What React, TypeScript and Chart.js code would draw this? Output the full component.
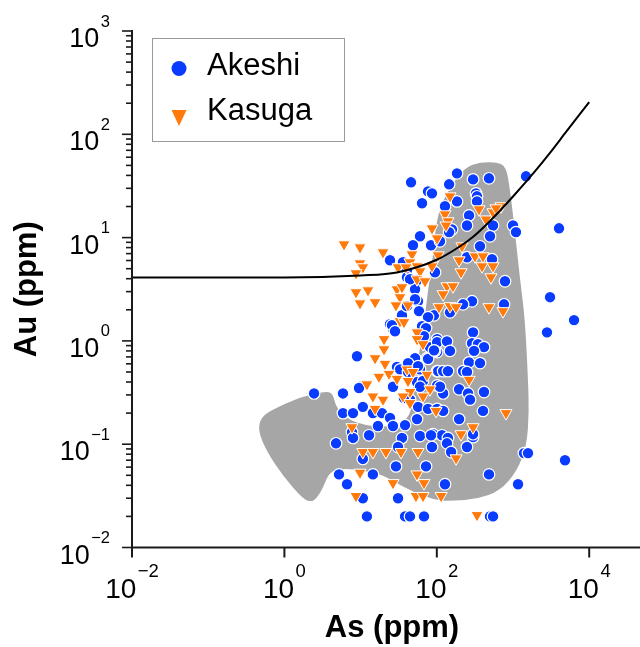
import React, { useEffect, useRef } from "react";
import { Chart, registerables } from "chart.js";
Chart.register(...registerables);

// ---- data (As ppm, Au ppm) ----
const akeshiAs = [184,299,484,145,45.9,76.7,86.5,327,337,64,184,337,128,1481,265,249,547,158,145,1000,1094,499,4018,60.2,48.7,83.9,110,369,249,530,24.3,36,40.6,94.7,785,55,40.6,51.8,56.7,290,221,762,3061,58.4,34.9,91.9,149,6320,44.5,51.8,76.7,24.3,26.6,64,72.2,101,81.4,101,8.97,51.8,74.4,40.6,30,32.9,60.2,101,55,65.9,26.6,9.82,5.87,2.45,44.5,25.8,28.3,299,101,136,290,347,416,94.7,149,308,76.7,265,369,41.9,56.7,41.9,104,121,221,249,9.53,60.2,101,121,196,257,273,416,37.1,56.7,76.7,101,121,404,5.87,7.95,10.7,14.5,19.1,24.3,55,196,16.9,26.6,38.3,7.71,7.95,12.9,34.9,60.2,89.2,117,140,299,4.76,31,86.5,136,249,154,10.7,1393,1574,4813,29.1,72.2,5.21,14.5,484,6.63,128,1164,10.7,31,12.1,38.3,44.5,67.9,499,547,2793,91.9,140,110,67.9,83.9,299,40.6];
const akeshiAu = [41.9,36.6,37.5,32.8,34.3,28.0,26.8,26.8,25.1,21.5,22.4,22.4,20.1,39.2,16.4,13.1,13.1,12.0,11.3,13.1,11.3,10.3,12.3,10.3,8.43,8.43,9.21,8.24,6.45,6.17,6.03,5.77,4.83,4.62,3.78,3.86,4.13,3.16,2.42,2.42,2.26,2.26,2.65,1.94,1.77,1.77,1.89,1.59,3.95,2.53,1.70,1.45,1.30,1.39,1.33,1.04,0.87,0.78,0.71,0.68,0.68,0.60,0.56,0.53,0.53,0.51,0.40,0.41,0.36,0.36,0.31,0.31,0.27,1.42,1.24,1.21,0.97,0.99,0.95,0.93,0.87,0.80,0.80,0.80,0.67,0.62,0.61,0.61,0.57,0.50,0.51,0.51,0.51,0.50,0.35,0.36,0.37,0.31,0.34,0.31,0.27,0.32,0.28,0.23,0.22,0.22,0.21,0.21,0.20,0.20,0.23,0.20,0.20,0.18,0.175,0.175,0.150,0.150,0.153,0.131,0.115,0.122,0.115,0.120,0.125,0.122,0.115,0.117,0.102,0.094,0.094,0.102,0.094,0.084,0.072,0.082,0.082,0.070,0.061,0.061,0.051,0.051,0.051,0.041,0.041,0.041,0.030,0.030,0.020,0.020,0.020,0.020,0.020,0.020,1.21,0.81,0.51,0.36,1.11,0.122,0.125,2.17];

const kasugaAs = [149,128,140,132,86.5,101,358,442,547,696,598,6.06,9.82,19.7,47.3,9.82,10.7,8.7,31,44.5,55,60.2,86.5,104,214,196,317,404,392,547,208,514,55,70,8.7,12.5,30,34.9,32.9,9.82,15.5,29.1,41.9,136,163,121,107,149,179,484,739,39.4,32.9,37.1,55,20.3,55,65.9,20.3,15.5,20.9,23.6,17.4,30,40.6,48.7,74.4,12.1,14.5,44.5,81.4,36,41.9,65.9,19.7,44.5,15.5,97.6,265,809,7.71,299,208,10.7,14.5,21.5,33.9,56.7,179,9.82,55,26.6,67.9,8.7,53.3,65.9,114,337];
const kasugaAu = [25.1,16.8,14.4,13.1,12.3,9.84,18.8,15.0,17.6,20.1,19.2,8.61,8.05,7.21,6.89,5.64,5.16,4.52,5.16,5.77,5.28,4.72,5.28,6.74,8.24,6.03,6.59,6.59,5.28,5.28,4.62,4.13,3.95,3.78,2.96,3.09,3.16,3.31,2.65,2.31,2.37,2.21,2.21,3.38,3.38,2.83,2.12,2.17,2.12,2.12,1.94,5.16,1.55,1.52,1.21,1.04,1.04,0.93,0.83,0.68,0.60,0.48,0.45,0.43,0.53,0.50,0.47,0.38,0.29,0.32,0.34,0.29,0.41,0.29,0.27,0.25,0.22,0.21,0.42,0.20,0.146,0.146,0.125,0.084,0.084,0.084,0.084,0.084,0.073,0.053,0.051,0.042,0.042,0.0315,0.0315,0.0315,0.0315,0.0206];

const curveAs = [0.01,1,10,30,100,200,300,500,1000,2000,3000,5000,10000];
const curveAu = [4.1,4.1,4.3,4.6,6.1,8.2,10.2,14.5,25,45,65,106,205];

const zoneAs = [611,809,914,1062,1236,1437,1574,1622,1513,1128,675,337,163,101,48.7,26.6,18.0,7.95,5.05,3.85,3.11,2.60,2.23,1.75,0.96,0.591,0.451,0.493,0.708,1.60,3.59,4.34,4.75,6.63,12.1,22.2,38.3,47.3,48.7,60.2,70.0,76.7,86.5,94.7,110,173,249,369];
const zoneAu = [53.8,48.9,29.3,11.3,3.95,1.62,0.426,0.204,0.0966,0.0549,0.0352,0.0294,0.0282,0.0284,0.0344,0.044,0.0514,0.0574,0.0574,0.0526,0.036,0.0294,0.0277,0.0294,0.0491,0.0839,0.134,0.183,0.218,0.286,0.328,0.305,0.229,0.175,0.150,0.146,0.164,0.218,0.381,0.831,1.73,3.16,5.40,11.3,20.1,36.6,48.9,53.5];

const xTickExps = [-2, 0, 2, 4];
const yTickExps = [-2, -1, 0, 1, 2, 3];
const xMin = 0.01, xMax = 46400, yMin = 0.01, yMax = 1000;

const BLUE = "#0a3cff";
const ORANGE = "#ff7a0a";
const GREY = "#a6a6a6";
const FONT = '"Liberation Sans", Arial, Helvetica, sans-serif';

export default function App() {
  const ref = useRef<HTMLCanvasElement>(null);

  useEffect(() => {
    document.body.style.margin = "0";
    const canvas = ref.current!;
    const pts = (xs: number[], ys: number[]) => xs.map((x, i) => ({ x, y: ys[i] }));

    const drawPow = (c: CanvasRenderingContext2D, exp: number, baseSize: number, supSize: number,
                     anchorX: number, baseY: number, supY: number, align: string) => {
      const sup = exp < 0 ? "\u2212" + Math.abs(exp) : String(exp);
      const bf = `${baseSize}px ${FONT}`;
      const sf = `${supSize}px ${FONT}`;
      c.font = bf;
      const wb = c.measureText("10").width;
      c.font = sf;
      const ws = c.measureText(sup).width;
      const gap = 1.5;
      const total = wb + gap + ws;
      const x0 = align === "right" ? anchorX - total : anchorX - total / 2;
      c.textAlign = "left";
      c.textBaseline = "alphabetic";
      c.fillStyle = "#000";
      c.font = bf;
      c.fillText("10", x0, baseY);
      c.font = sf;
      c.fillText(sup, x0 + wb + gap, supY);
    };

    const zonePlugin = {
      id: "zone",
      beforeDatasetsDraw(chart: any) {
        const c = chart.ctx as CanvasRenderingContext2D;
        const xs = chart.scales.x, ys = chart.scales.y;
        const p = zoneAs.map((v, i) => [xs.getPixelForValue(v), ys.getPixelForValue(zoneAu[i])]);
        const n = p.length;
        const mid = (i: number) => {
          const a = p[i % n], b = p[(i + 1) % n];
          return [(a[0] + b[0]) / 2, (a[1] + b[1]) / 2];
        };
        c.save();
        c.beginPath();
        const m0 = mid(n - 1);
        c.moveTo(m0[0], m0[1]);
        for (let i = 0; i < n; i++) {
          const m = mid(i);
          c.quadraticCurveTo(p[i][0], p[i][1], m[0], m[1]);
        }
        c.closePath();
        c.fillStyle = GREY;
        c.fill();
        c.restore();
      },
    };

    const overlay = {
      id: "overlay",
      afterDraw(chart: any) {
        const c = chart.ctx as CanvasRenderingContext2D;
        const xs = chart.scales.x, ys = chart.scales.y;
        const a = chart.chartArea;
        c.save();
        c.strokeStyle = "#1a1a1a";
        c.lineWidth = 2;
        c.beginPath();
        c.moveTo(a.left, a.top - 1);
        c.lineTo(a.left, a.bottom);
        c.lineTo(a.right, a.bottom);
        c.stroke();
        // y ticks
        c.lineWidth = 1.6;
        for (const e of yTickExps) {
          const y = ys.getPixelForValue(Math.pow(10, e));
          c.beginPath(); c.moveTo(a.left - 10, y); c.lineTo(a.left, y); c.stroke();
          drawPow(c, e, 27, 16.5, 110, y + 16, y - 4.5, "right");
          if (e < 3) {
            for (let m = 2; m <= 9; m++) {
              const yy = ys.getPixelForValue(m * Math.pow(10, e));
              c.beginPath(); c.moveTo(a.left - 6, yy); c.lineTo(a.left, yy); c.stroke();
            }
          }
        }
        // x ticks
        c.lineWidth = 2;
        for (const e of xTickExps) {
          const x = xs.getPixelForValue(Math.pow(10, e));
          c.beginPath(); c.moveTo(x, a.bottom); c.lineTo(x, a.bottom + 10); c.stroke();
          drawPow(c, e, 28, 18.5, x, 598, 576.5, "center");
        }
        // titles
        c.fillStyle = "#000";
        c.font = `bold 31px ${FONT}`;
        c.textAlign = "center";
        c.textBaseline = "alphabetic";
        c.fillText("As (ppm)", 392, 637);
        c.save();
        c.translate(36, (a.top + a.bottom) / 2);
        c.rotate(-Math.PI / 2);
        c.fillText("Au (ppm)", 0, 0);
        c.restore();
        // legend
        c.fillStyle = "#fff";
        c.fillRect(152.5, 38.5, 192, 103);
        c.strokeStyle = "#9a9a9a";
        c.lineWidth = 1;
        c.strokeRect(152.5, 38.5, 192, 103);
        c.fillStyle = BLUE;
        c.beginPath(); c.arc(179, 68.5, 7.5, 0, Math.PI * 2); c.fill();
        c.fillStyle = ORANGE;
        c.beginPath(); c.moveTo(171.5, 110); c.lineTo(186.5, 110); c.lineTo(179, 126); c.closePath(); c.fill();
        c.fillStyle = "#000";
        c.font = `31px ${FONT}`;
        c.textAlign = "left";
        c.fillText("Akeshi", 207, 75);
        c.fillText("Kasuga", 207, 120);
        c.restore();
      },
    };

    const chart = new Chart(canvas, {
      type: "scatter",
      data: {
        datasets: [
          {
            type: "line",
            label: "curve",
            data: pts(curveAs, curveAu),
            borderColor: "#000",
            borderWidth: 2,
            pointRadius: 0,
            fill: false,
            cubicInterpolationMode: "monotone",
            order: 0,
          } as any,
          {
            label: "Kasuga",
            data: pts(kasugaAs, kasugaAu),
            pointStyle: "triangle",
            rotation: 180,
            pointRadius: 7,
            backgroundColor: ORANGE,
            borderColor: "#ffffff",
            borderWidth: 1,
            order: 1,
          } as any,
          {
            label: "Akeshi",
            data: pts(akeshiAs, akeshiAu),
            pointStyle: "circle",
            pointRadius: 5.8,
            backgroundColor: BLUE,
            borderColor: "#ffffff",
            borderWidth: 1.2,
            order: 2,
          } as any,
        ],
      },
      options: {
        responsive: false,
        animation: false,
        devicePixelRatio: 1,
        layout: { autoPadding: false, padding: { top: 31, right: 0, left: 0, bottom: 0 } },
        plugins: { legend: { display: false }, tooltip: { enabled: false } },
        scales: {
          x: {
            type: "logarithmic",
            min: xMin,
            max: xMax,
            ticks: { display: false },
            grid: { display: false },
            border: { display: false },
            afterFit: (s: any) => { s.height = 99.5; },
          },
          y: {
            type: "logarithmic",
            min: yMin,
            max: yMax,
            ticks: { display: false },
            grid: { display: false },
            border: { display: false },
            afterFit: (s: any) => { s.width = 132; },
          },
        },
      } as any,
      plugins: [zonePlugin, overlay],
    });
    return () => chart.destroy();
  }, []);

  return (
    <div style={{ width: 640, height: 647 }}>
      <canvas ref={ref} width={640} height={647} style={{ display: "block" }} />
    </div>
  );
}
